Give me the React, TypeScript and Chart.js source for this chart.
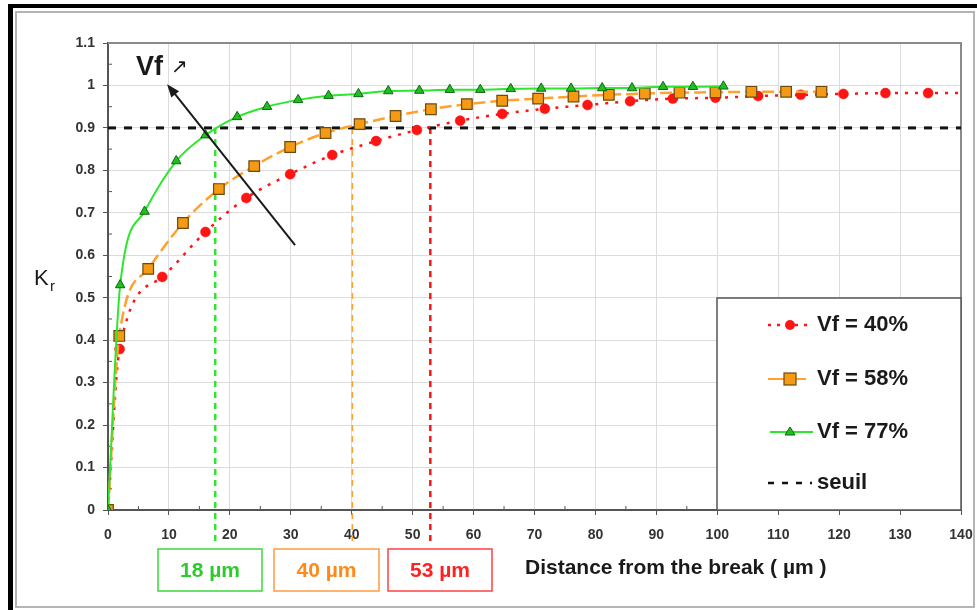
import React, { useEffect, useRef } from 'react';
import { Chart, registerables } from 'chart.js';

Chart.register(...registerables);

// ---- data ----
const redX = [0, 1.9, 8.9, 16.0, 22.7, 29.9, 36.8, 44.0, 50.7, 57.8, 64.7, 71.7, 78.7, 85.7, 92.7, 99.7, 106.7, 113.7, 120.7, 127.6, 134.6, 140];
const redY = [0, 0.379, 0.549, 0.655, 0.735, 0.791, 0.836, 0.869, 0.895, 0.917, 0.933, 0.945, 0.954, 0.963, 0.969, 0.971, 0.975, 0.978, 0.98, 0.982, 0.982, 0.982];

const orangeX = [0, 1.85, 6.6, 12.3, 18.2, 24.0, 29.9, 35.7, 41.3, 47.2, 53.0, 58.9, 64.7, 70.6, 76.4, 82.2, 88.1, 93.8, 99.7, 105.6, 111.3, 117.1];
const orangeY = [0, 0.41, 0.568, 0.676, 0.756, 0.81, 0.855, 0.888, 0.909, 0.928, 0.944, 0.956, 0.964, 0.969, 0.974, 0.978, 0.981, 0.983, 0.984, 0.985, 0.985, 0.985];

const greenX = [0, 2.0, 6.0, 11.2, 16.0, 21.2, 26.1, 31.2, 36.2, 41.1, 46.0, 51.1, 56.1, 61.1, 66.1, 71.1, 76.0, 81.1, 86.0, 91.1, 96.0, 101.0];
const greenY = [0, 0.53, 0.703, 0.822, 0.883, 0.926, 0.95, 0.966, 0.976, 0.98, 0.987, 0.988, 0.99, 0.99, 0.992, 0.993, 0.993, 0.994, 0.994, 0.997, 0.997, 0.998];

const seuilX = [0, 140];
const seuilY = [0.9, 0.9];

const seriesLabels = ['Vf = 40%', 'Vf = 58%', 'Vf = 77%', 'seuil'];
const crossX = [17.6, 40.1, 52.9]; // where each curve reaches the threshold
const crossLabels = ['18 µm', '40 µm', '53 µm'];
const arrowFrom = { x: 30.7, y: 0.624 };
const arrowTo = { x: 9.7, y: 1.003 };

const RED = '#ff1414';
const ORANGE = '#ffa12e';
const GREEN = '#2ee62e';
const FONT = '"Liberation Sans", Arial, sans-serif';

const pts = (xs: number[], ys: number[]) => xs.map((x, i) => ({ x, y: ys[i] }));

export default function App() {
  const ref = useRef<HTMLCanvasElement>(null);

  useEffect(() => {
    const canvas = ref.current!;
    const decor = {
      id: 'decor',
      beforeDraw(chart: any) {
        const c = chart.ctx;
        c.save();
        c.fillStyle = '#fff';
        c.fillRect(0, 0, chart.width, chart.height);
        c.restore();
      },
      beforeDatasetsDraw(chart: any) {
        const c = chart.ctx;
        const xs = chart.scales.x;
        const ys = chart.scales.y;
        const a = chart.chartArea;
        c.save();
        // plot border (top/right)
        c.strokeStyle = '#8a8a8a';
        c.lineWidth = 2;
        c.beginPath();
        c.moveTo(a.left, a.top);
        c.lineTo(a.right, a.top);
        c.lineTo(a.right, a.bottom);
        c.stroke();
        // minor ticks
        c.strokeStyle = '#555';
        c.lineWidth = 1;
        c.beginPath();
        for (let v = 5; v < 140; v += 10) {
          const px = xs.getPixelForValue(v);
          c.moveTo(px, a.bottom);
          c.lineTo(px, a.bottom - 4);
        }
        for (let v = 0.05; v < 1.1; v += 0.1) {
          const py = ys.getPixelForValue(v);
          c.moveTo(a.left, py);
          c.lineTo(a.left + 4, py);
        }
        c.stroke();
        // vertical threshold lines
        const cols = [GREEN, ORANGE, RED];
        const widths = [2.5, 1.6, 2.5];
        crossX.forEach((v, i) => {
          const px = xs.getPixelForValue(v);
          c.strokeStyle = cols[i];
          c.lineWidth = widths[i];
          c.setLineDash([6, 5]);
          c.beginPath();
          c.moveTo(px, ys.getPixelForValue(0.9));
          c.lineTo(px, a.bottom + 34);
          c.stroke();
        });
        c.restore();
      },
      afterDraw(chart: any) {
        const c = chart.ctx;
        const xs = chart.scales.x;
        const ys = chart.scales.y;
        const a = chart.chartArea;
        c.save();
        // outer frame
        c.fillStyle = '#000';
        c.fillRect(8, 4, 969, 4);
        c.fillRect(8, 4, 5, 606);
        c.strokeStyle = '#b4b4b4';
        c.lineWidth = 2;
        c.strokeRect(16, 12, 958, 595);

        // legend box
        const lx = 717, ly = 298;
        c.fillStyle = '#fff';
        c.fillRect(lx, ly, a.right - lx, a.bottom - ly);
        c.strokeStyle = '#555';
        c.lineWidth = 1.5;
        c.strokeRect(lx, ly, a.right - lx, a.bottom - ly);
        const rows = [325, 379, 432, 483];
        // red
        c.strokeStyle = RED; c.lineWidth = 2.5; c.setLineDash([3, 6]);
        c.beginPath(); c.moveTo(768, rows[0]); c.lineTo(810, rows[0]); c.stroke();
        c.setLineDash([]);
        c.fillStyle = RED; c.beginPath(); c.arc(790, rows[0], 5, 0, Math.PI * 2); c.fill();
        // orange
        c.strokeStyle = ORANGE; c.lineWidth = 2;
        c.beginPath(); c.moveTo(768, rows[1]); c.lineTo(806, rows[1]); c.stroke();
        c.fillStyle = '#f59a12'; c.fillRect(784, rows[1] - 6, 12, 12);
        c.strokeStyle = '#6b4a10'; c.lineWidth = 1.2; c.strokeRect(784, rows[1] - 6, 12, 12);
        // green
        c.strokeStyle = GREEN; c.lineWidth = 2;
        c.beginPath(); c.moveTo(770, rows[2]); c.lineTo(813, rows[2]); c.stroke();
        c.fillStyle = '#1fbf1f'; c.strokeStyle = '#116611'; c.lineWidth = 1;
        c.beginPath(); c.moveTo(790, rows[2] - 5); c.lineTo(795, rows[2] + 3); c.lineTo(785, rows[2] + 3); c.closePath(); c.fill(); c.stroke();
        // seuil
        c.strokeStyle = '#111'; c.lineWidth = 2.5; c.setLineDash([6, 8]);
        c.beginPath(); c.moveTo(768, rows[3]); c.lineTo(812, rows[3]); c.stroke();
        c.setLineDash([]);
        c.fillStyle = '#1a1a1a';
        c.font = `bold 22px ${FONT}`;
        c.textAlign = 'left';
        c.textBaseline = 'middle';
        seriesLabels.forEach((t, i) => c.fillText(t, 817, rows[i]));

        // crossing label boxes
        const boxes = [
          { l: 158, r: 262, col: '#3ad83a', txt: '#2ccc2c' },
          { l: 274, r: 379, col: '#ff9a40', txt: '#ff8a1a' },
          { l: 388, r: 492, col: '#ff4040', txt: '#ff2020' },
        ];
        c.font = `bold 21px ${FONT}`;
        c.textAlign = 'center';
        boxes.forEach((b, i) => {
          c.fillStyle = '#fff';
          c.fillRect(b.l, 549, b.r - b.l, 42);
          c.strokeStyle = b.col; c.lineWidth = 1.5;
          c.strokeRect(b.l, 549, b.r - b.l, 42);
          c.fillStyle = b.txt;
          c.fillText(crossLabels[i], (b.l + b.r) / 2, 571);
        });

        // axis titles
        c.fillStyle = '#1a1a1a';
        c.textAlign = 'left';
        c.font = `bold 21px ${FONT}`;
        c.fillText('Distance from the break ( µm )', 525, 568);
        c.textBaseline = 'alphabetic';
        c.font = `22px ${FONT}`;
        c.fillText('K', 34, 285);
        c.font = `15px ${FONT}`;
        c.fillText('r', 50, 291);

        // Vf annotation
        c.font = `bold 27px ${FONT}`;
        c.fillText('Vf', 136, 75);
        c.font = `20px "DejaVu Sans", sans-serif`;
        c.fillText('↗', 171, 73);

        // big arrow
        const x1 = xs.getPixelForValue(arrowFrom.x), y1 = ys.getPixelForValue(arrowFrom.y);
        const x2 = xs.getPixelForValue(arrowTo.x), y2 = ys.getPixelForValue(arrowTo.y);
        const ang = Math.atan2(y2 - y1, x2 - x1);
        c.strokeStyle = '#1a1a1a'; c.fillStyle = '#1a1a1a'; c.lineWidth = 2;
        c.beginPath();
        c.moveTo(x1, y1);
        c.lineTo(x2 - Math.cos(ang) * 8, y2 - Math.sin(ang) * 8);
        c.stroke();
        c.beginPath();
        c.moveTo(x2, y2);
        c.lineTo(x2 - Math.cos(ang) * 13 + Math.sin(ang) * 5, y2 - Math.sin(ang) * 13 - Math.cos(ang) * 5);
        c.lineTo(x2 - Math.cos(ang) * 13 - Math.sin(ang) * 5, y2 - Math.sin(ang) * 13 + Math.cos(ang) * 5);
        c.closePath();
        c.fill();
        c.restore();
      },
    };

    const chart = new Chart(canvas, {
      type: 'scatter',
      data: {
        datasets: [
          {
            label: 'seuil',
            data: pts(seuilX, seuilY),
            showLine: true,
            borderColor: '#111',
            borderWidth: 3,
            borderDash: [8, 8],
            pointRadius: 0,
            order: 4,
          },
          {
            label: seriesLabels[0],
            data: pts(redX, redY),
            showLine: true,
            borderColor: RED,
            borderWidth: 2.5,
            borderDash: [3, 7],
            cubicInterpolationMode: 'monotone',
            pointStyle: 'circle',
            pointRadius: redX.map((_, i) => (i === redX.length - 1 ? 0 : 5)),
            pointBackgroundColor: RED,
            pointBorderColor: RED,
            pointBorderWidth: 0.5,
            order: 3,
          },
          {
            label: seriesLabels[1],
            data: pts(orangeX, orangeY),
            showLine: true,
            borderColor: ORANGE,
            borderWidth: 2.5,
            borderDash: [12, 5],
            cubicInterpolationMode: 'monotone',
            pointStyle: 'rect',
            pointRadius: 7.5,
            pointBackgroundColor: '#f59a12',
            pointBorderColor: '#6b4a10',
            pointBorderWidth: 1.2,
            order: 2,
          },
          {
            label: seriesLabels[2],
            data: pts(greenX, greenY),
            showLine: true,
            borderColor: GREEN,
            borderWidth: 2,
            cubicInterpolationMode: 'monotone',
            pointStyle: 'triangle',
            pointRadius: 5.5,
            pointBackgroundColor: '#1fbf1f',
            pointBorderColor: '#116611',
            pointBorderWidth: 1,
            order: 1,
          },
        ] as any,
      },
      options: {
        responsive: false,
        animation: false,
        devicePixelRatio: 1,
        layout: { padding: { top: 43, right: 16, bottom: 70, left: 0 } },
        plugins: { legend: { display: false }, tooltip: { enabled: false } },
        scales: {
          x: {
            type: 'linear',
            min: 0,
            max: 140,
            afterFit: (s: any) => { s.height = 30; s.paddingLeft = 0; s.paddingRight = 0; },
            ticks: { stepSize: 10, padding: 12, color: '#333', font: { family: FONT, size: 14, weight: 'bold' } },
            grid: { color: '#dcdcdc', lineWidth: 1, tickLength: 5, tickColor: '#555' },
            border: { color: '#555', width: 2 },
          },
          y: {
            type: 'linear',
            min: 0,
            max: 1.1,
            afterFit: (s: any) => { s.width = 108; s.paddingTop = 0; s.paddingBottom = 0; },
            ticks: {
              stepSize: 0.1,
              padding: 8,
              color: '#333',
              font: { family: FONT, size: 14, weight: 'bold' },
              callback: (v: number) => String(Math.round(v * 10) / 10),
            },
            grid: { color: '#dcdcdc', lineWidth: 1, tickLength: 5, tickColor: '#555' },
            border: { color: '#555', width: 2 },
          },
        },
      } as any,
      plugins: [decor],
    });
    return () => chart.destroy();
  }, []);

  return (
    <div style={{ position: 'fixed', left: 0, top: 0, width: 977, height: 610, background: '#fff' }}>
      <canvas ref={ref} width={977} height={610} style={{ display: 'block', width: 977, height: 610 }} />
    </div>
  );
}
